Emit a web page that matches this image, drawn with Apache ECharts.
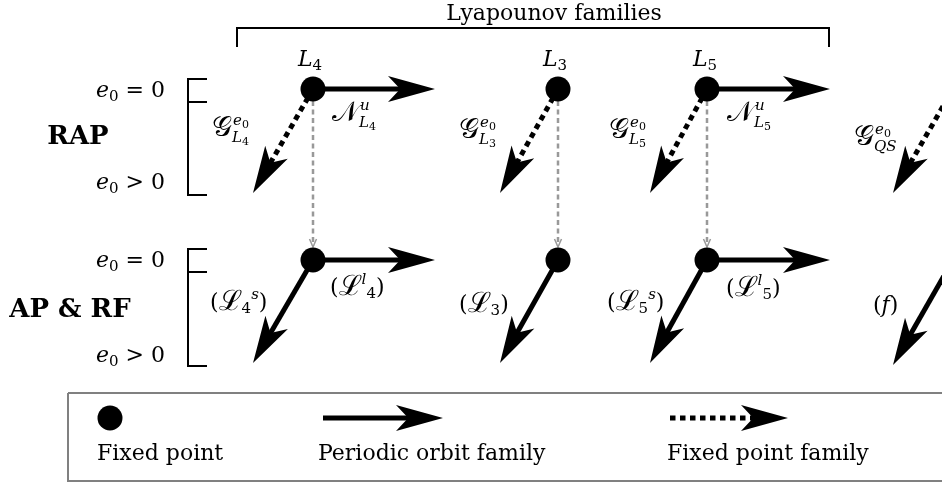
<!DOCTYPE html>
<html><head><meta charset="utf-8">
<script src="https://cdn.jsdelivr.net/npm/echarts@6/dist/echarts.min.js"></script>
<style>html,body{margin:0;padding:0;background:#fff}#c{width:942px;height:483px}</style>
</head><body><div id="c"></div>
<script>
// ---------- data (diagram units, x: 0..942, y: 0..483 downward) ----------
const familyNames = ['L4', 'L3', 'L5', 'QS'];
const rowNames = ['RAP', 'AP & RF'];
// fixed points: [x, y]
const fixedPoints = [[313, 89], [558, 89], [707, 89], [953, 89],
                     [313, 260], [558, 260], [707, 260], [953, 260]];
// fixed point families (dotted): [x0, y0, tipX, tipY]
const fixedPointFamilies = [[313, 89, 253, 193], [558, 89, 500, 193], [707, 89, 650, 193], [953, 89, 893, 193]];
// periodic orbit families (solid): [x0, y0, tipX, tipY]
const periodicFamilies = [[313, 89, 435, 89], [707, 89, 830, 89],
                          [313, 260, 435, 260], [707, 260, 830, 260],
                          [313, 260, 253, 363], [558, 260, 500, 363], [707, 260, 650, 363], [953, 260, 893, 365]];
// continuation from RAP to AP&RF (grey dashed): [x, y0, y1]
const continuations = [[313, 101, 247], [558, 101, 247], [707, 101, 247]];
// legend samples
const legendPoint = [[110, 418]];
const legendPeriodic = [[323, 418, 443, 418]];
const legendFixedFamily = [[670, 418, 788, 418]];
const legendTexts = ['Fixed point', 'Periodic orbit family', 'Fixed point family'];
const legendTextX = [97, 318, 667];
const legendTextY = 454;
// structural lines (polylines)
const brackets = [
  [[237, 47], [237, 28], [829, 28], [829, 47]],
  [[207, 79], [188, 79], [188, 195], [207, 195]], [[188, 102], [207, 102]],
  [[207, 249], [188, 249], [188, 366], [207, 366]], [[188, 272], [207, 272]],
];
const legendBox = [[68, 393], [946, 393], [946, 481], [68, 481], [68, 393]];

// family names with calligraphic symbol, super- and subscript: [x, y, symbol, sup, sub]
const familySymbols = [
  [212, 129, '𝒢', 'e0', 'L4'],
  [332, 114, '𝒩', 'u', 'L4'],
  [459, 131, '𝒢', 'e0', 'L3'],
  [609, 131, '𝒢', 'e0', 'L5'],
  [727, 114, '𝒩', 'u', 'L5'],
  [854, 138, '𝒢', 'e0', 'QS'],
];
// text labels: [x, y, align, richText]
const labels = [
  [554, 14, 'center', '{rm|Lyapounov families}'],
  [165, 91, 'right', '{it|e}{sb|0}{rm| = 0}'],
  [165, 183, 'right', '{it|e}{sb|0}{rm| > 0}'],
  [165, 261, 'right', '{it|e}{sb|0}{rm| = 0}'],
  [165, 356, 'right', '{it|e}{sb|0}{rm| > 0}'],
  [78, 137, 'center', '{bf|RAP}'],
  [70, 310, 'center', '{bf|AP & RF}'],
  [310, 60, 'center', '{it|L}{sb|4}'],
  [555, 60, 'center', '{it|L}{sb|3}'],
  [705, 60, 'center', '{it|L}{sb|5}'],
  [210, 303, 'left', '{rm|(}{scrl|ℒ}{sb|4}{sp|s}{rm|)}'],
  [330, 288, 'left', '{rm|(}{scrl|ℒ}{sp|l}{sb|4}{rm|)}'],
  [459, 305, 'left', '{rm|(}{scrl|ℒ}{sb|3}{rm|)}'],
  [607, 303, 'left', '{rm|(}{scrl|ℒ}{sb|5}{sp|s}{rm|)}'],
  [726, 289, 'left', '{rm|(}{scrl|ℒ}{sp|l}{sb|5}{rm|)}'],
  [873, 306, 'left', '{rm|(}{it|f}{rm|)}'],
];

// ---------- styles ----------
const F = "'DejaVu Serif', serif";
const SCR_SIZE = 28;
const rich = {
  rm: {fontFamily: F, fontSize: 22, color: '#000'},
  it: {fontFamily: F, fontSize: 22, fontStyle: 'italic', color: '#000'},
  bf: {fontFamily: F, fontSize: 26, fontWeight: 'bold', color: '#000'},
  sb: {fontFamily: F, fontSize: 15, color: '#000', padding: [13, 0, 0, 0]},
  sp: {fontFamily: F, fontSize: 15, fontStyle: 'italic', color: '#000', padding: [0, 0, 15, 0]},
  scr: {fontFamily: F, fontSize: SCR_SIZE, color: '#000'},
  scrl: {fontFamily: F, fontSize: 28, color: '#000'},
  sm: {fontFamily: F, fontSize: 15, fontStyle: 'italic', color: '#000'},
  smsb: {fontFamily: F, fontSize: 11, color: '#000', padding: [8, 0, 0, 0]},
};
function smallMath(s) { // 'L4' -> italic L + small sub 4 ; 'QS' -> italic
  const m = s.match(/^([A-Za-z]+)(\d?)$/);
  return '{sm|' + m[1] + '}' + (m[2] ? '{smsb|' + m[2] + '}' : '');
}
const measureCtx = document.createElement('canvas').getContext('2d');
measureCtx.font = SCR_SIZE + "px " + F;
familySymbols.forEach(f => {
  const w = measureCtx.measureText(f[2]).width;
  labels.push([f[0], f[1], 'left', '{scr|' + f[2] + '}']);
  labels.push([f[0] + w + 1, f[1] - 8, 'left', smallMath(f[3])]);
  labels.push([f[0] + w, f[1] + 9, 'left', smallMath(f[4])]);
});

const HEAD_L = 47, HEAD_W = 13, NOTCH = 0.74;
function arrowRender(dotted) {
  return function (params, api) {
    const s = api.coord([api.value(0), api.value(1)]);
    const t = api.coord([api.value(2), api.value(3)]);
    const dx = t[0] - s[0], dy = t[1] - s[1];
    const len = Math.hypot(dx, dy);
    const ux = dx / len, uy = dy / len, nx = -uy, ny = ux;
    const bx = t[0] - ux * HEAD_L, by = t[1] - uy * HEAD_L;
    const mx = t[0] - ux * HEAD_L * NOTCH, my = t[1] - uy * HEAD_L * NOTCH;
    return {type: 'group', children: [
      {type: 'line', shape: {x1: s[0], y1: s[1], x2: mx + ux * 2, y2: my + uy * 2},
       style: {stroke: '#000', lineWidth: 5, lineDash: dotted ? [5.5, 4.5] : null, lineCap: 'butt'}},
      {type: 'polygon', shape: {points: [t, [bx + nx * HEAD_W, by + ny * HEAD_W], [mx, my], [bx - nx * HEAD_W, by - ny * HEAD_W]]},
       style: {fill: '#000'}}
    ]};
  };
}
function contRender(params, api) {
  const a = api.coord([api.value(0), api.value(1)]);
  const b = api.coord([api.value(0), api.value(2)]);
  return {type: 'group', children: [
    {type: 'line', shape: {x1: a[0], y1: a[1], x2: b[0], y2: b[1] - 1},
     style: {stroke: '#999', lineWidth: 2.5, lineDash: [5, 3.5]}},
    {type: 'polyline', shape: {points: [[b[0] - 3.5, b[1] - 8], [b[0], b[1]], [b[0] + 3.5, b[1] - 8]]},
     style: {stroke: '#999', lineWidth: 1.5, fill: null}}
  ]};
}
function polyRender(list, color, width) {
  return function (params, api) {
    const pts = list[params.dataIndex].map(p => api.coord(p));
    return {type: 'polyline', shape: {points: pts}, style: {stroke: color, lineWidth: width, fill: null}};
  };
}

const chart = echarts.init(document.getElementById('c'), null, {renderer: 'canvas'});
chart.setOption({
  animation: false,
  backgroundColor: '#fff',
  grid: {left: 0, right: 0, top: 0, bottom: 0},
  xAxis: {type: 'value', min: 0, max: 942, show: false},
  yAxis: {type: 'value', min: 0, max: 483, inverse: true, show: false},
  series: [
    {type: 'custom', silent: true, z: 1, clip: false, renderItem: polyRender(brackets, '#000', 2), data: brackets.map((b, i) => [i])},
    {type: 'custom', silent: true, z: 1, clip: false, renderItem: polyRender([legendBox], '#808080', 2), data: [[0]]},
    {type: 'custom', silent: true, z: 2, renderItem: contRender, data: continuations},
    {type: 'custom', silent: true, z: 3, renderItem: arrowRender(true), data: fixedPointFamilies.concat(legendFixedFamily)},
    {type: 'custom', silent: true, z: 3, renderItem: arrowRender(false), data: periodicFamilies.concat(legendPeriodic)},
    {type: 'scatter', silent: true, z: 4, symbol: 'circle', symbolSize: 25, itemStyle: {color: '#000', opacity: 1},
     data: fixedPoints.concat(legendPoint)},
    {type: 'scatter', silent: true, z: 5, symbolSize: 1, itemStyle: {color: 'rgba(0,0,0,0)', opacity: 1},
     label: {show: true, position: 'inside', rich: rich, color: '#000'},
     data: labels.map(l => ({value: [l[0], l[1]], label: {align: l[2], verticalAlign: 'middle', formatter: l[3]}}))
       .concat(legendTexts.map((t, i) => ({value: [legendTextX[i], legendTextY], label: {align: 'left', verticalAlign: 'middle', formatter: '{rm|' + t + '}'}})))}
  ]
});
</script></body></html>
